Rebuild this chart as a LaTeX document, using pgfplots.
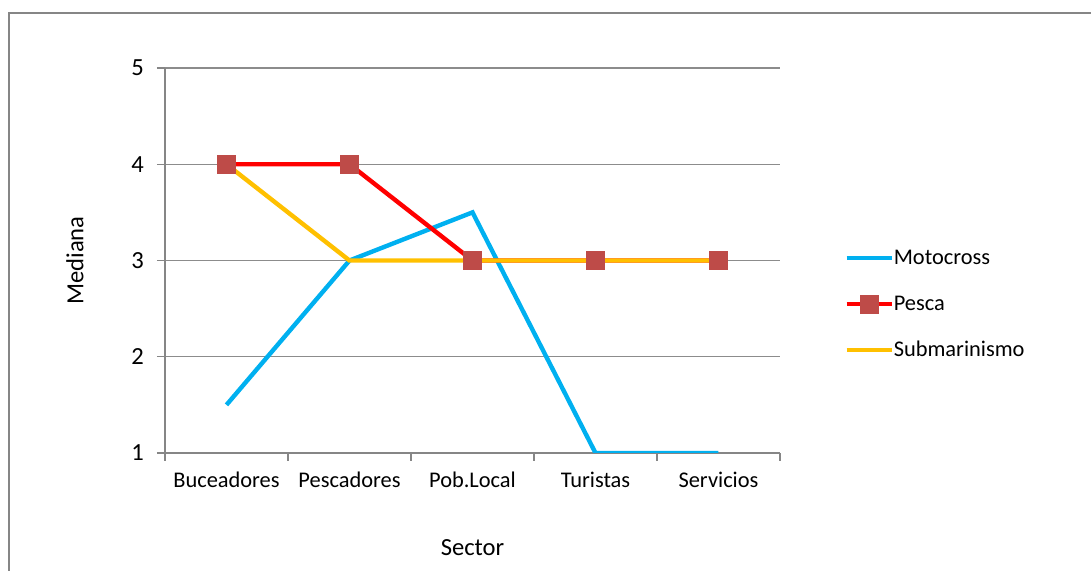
\documentclass[border=0pt]{standalone}
\usepackage{fontspec}
\setmainfont{Carlito}
\usepackage{pgfplots}
\pgfplotsset{compat=1.18}
\definecolor{moto}{HTML}{00B0F0}
\definecolor{pesca}{HTML}{FF0000}
\definecolor{sub}{HTML}{FFC000}
\definecolor{mk}{HTML}{BE4B48}
\definecolor{axgray}{HTML}{868686}
\definecolor{grd}{HTML}{8C8C8C}
\begin{document}
\begin{tikzpicture}
\draw[axgray, line width=1.3pt] (-78pt,-70pt) -- (-78pt,220pt) -- (480pt,220pt);
\begin{axis}[
  scale only axis,
  width=307.5pt, height=192.5pt,
  xmin=-0.5, xmax=4.5, ymin=1, ymax=5,
  /pgf/number format/assume math mode=true,
  axis x line*=bottom, axis y line*=left,
  axis line style={draw=axgray, line width=0.6pt},
  tick align=outside,
  major tick length=4pt,
  tick style={draw=axgray, line width=0.6pt},
  xtick={-0.5,0.5,1.5,2.5,3.5,4.5},
  xticklabels={},
  extra x ticks={0,1,2,3,4},
  extra x tick labels={Buceadores,Pescadores,Pob.Local,Turistas,Servicios},
  extra x tick style={major tick length=0pt, xticklabel style={anchor=base, yshift=-17.5pt}},
  ytick={1,2,3,4,5},
  ymajorgrids,
  major grid style={draw=grd, line width=0.6pt},
  ticklabel style={font=\fontsize{11.2}{13}\selectfont},
  yticklabel style={anchor=east, xshift=-3pt, font=\fontsize{12.3}{14}\selectfont},
  xlabel={Sector}, ylabel={Mediana},
  every axis x label/.style={at={(axis description cs:0.5,0)}, yshift=-47.5pt, anchor=center, font=\fontsize{12.3}{14}\selectfont},
  every axis y label/.style={at={(axis description cs:0,0.5)}, xshift=-45pt, rotate=90, anchor=center, font=\fontsize{12.3}{14}\selectfont},
  legend style={at={(rel axis cs:1.0943,0.387)}, anchor=west, draw=none, fill=none,
    font=\fontsize{11.2}{13}\selectfont, row sep=13pt,
    nodes={inner sep=0pt, anchor=west, text height=8pt, text depth=2pt},
    /tikz/every even column/.append style={column sep=1.5pt}},
  legend cell align=left,
  legend image code/.code={\draw[mark repeat=2, mark phase=2, #1] plot coordinates {(0pt,0pt) (11.25pt,0pt) (22.5pt,0pt)};},
]
\addplot[moto, line width=2.2pt] coordinates {(0,1.5) (1,3) (2,3.5) (3,1) (4,1)};
\addlegendentry{Motocross}
\addplot[pesca, line width=2.2pt, mark=square*, mark size=4.5pt, mark options={fill=mk, draw=mk, line width=0.3pt}] coordinates {(0,4) (1,4) (2,3) (3,3) (4,3)};
\addlegendentry{Pesca}
\addplot[sub, line width=2.2pt] coordinates {(0,4) (1,3) (2,3) (3,3) (4,3)};
\addlegendentry{Submarinismo}
\end{axis}
\pgfresetboundingbox
\useasboundingbox (-82.5pt,-59pt) rectangle (463pt,226.5pt);
\end{tikzpicture}
\end{document}
